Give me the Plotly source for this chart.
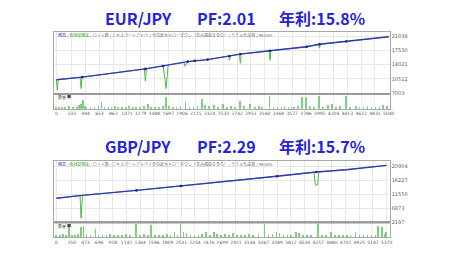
import plotly.graph_objects as go

W, H = 455, 259

# ---------------- EUR/JPY data ----------------
eur_title = ["EUR/JPY", "PF:2.01", "年利:15.8%"]
eur_bal_x = [0, 390, 1350, 1695, 1995, 2295, 2790, 3240, 3795, 3990, 4395, 5040]
eur_bal_y = [10280, 10940, 12990, 13970, 14810, 15300, 16680, 17520, 18500, 19140, 19800, 21000]
eur_eq_x = [0, 15, 30, 360, 375, 390, 1335, 1350, 1365, 1620, 1665, 1695, 1935, 1950, 1995, 2295,
            2610, 2625, 2640, 2775, 2790, 2805, 3225, 3240, 3255, 3795, 3975, 3990, 4005, 4395, 5040]
eur_eq_y = [10280, 7740, 10300, 10890, 8060, 10940, 12960, 9960, 13020, 13760, 8060, 13970, 14640, 13650, 14810, 15300,
            16180, 15130, 16260, 16640, 14390, 16710, 17490, 15050, 17550, 18500, 19080, 18160, 19160, 19800, 21000]
eur_mark_x = [390, 1350, 1620, 1995, 2100, 2295, 2625, 2790, 3240, 3795, 3990, 4395]
eur_mark_y = [10940, 12990, 13700, 14810, 15000, 15300, 16200, 16680, 17520, 18500, 19140, 19800]
eur_vol_x = [0, 45, 90, 135, 195, 255, 315, 345, 375, 405, 435, 465, 525, 585, 645, 690, 735, 795, 840, 900,
             945, 1005, 1065, 1110, 1170, 1215, 1275, 1335, 1395, 1440, 1500, 1560, 1620, 1665, 1710, 1770,
             1830, 1890, 1965, 2025, 2085, 2145, 2220, 2265, 2325, 2400, 2460, 2535, 2595, 2655, 2715, 2790,
             2850, 2940, 3015, 3075, 3120, 3240, 3300, 3360, 3420, 3465, 3525, 3570, 3615, 3675, 3735, 3795,
             3855, 3915, 3990, 4050, 4125, 4185, 4245, 4305, 4395, 4455, 4545, 4605, 4665, 4725, 4785, 4845,
             4905, 4965, 5025]
eur_vol_y = [0.2, 0.1, 0.2, 0.1, 0.3, 0.1, 0.2, 0.4, 0.5, 0.8, 0.3, 0.2, 0.1, 0.2, 0.3, 0.6, 0.2, 0.1, 0.2, 0.3,
             0.2, 0.1, 0.2, 0.3, 0.2, 0.1, 0.2, 0.3, 0.5, 0.2, 0.1, 0.2, 0.3, 1.1, 0.3, 0.2,
             0.1, 0.3, 0.6, 0.2, 0.1, 0.3, 0.9, 0.4, 0.3, 0.4, 0.2, 0.5, 0.2, 0.3, 0.1, 0.7,
             0.3, 0.5, 0.2, 0.3, 0.1, 1.2, 0.2, 0.1, 0.2, 0.3, 0.2, 0.1, 0.2, 0.3, 1.1, 1.1,
             0.3, 0.2, 1.2, 0.2, 0.4, 0.5, 0.2, 0.3, 1.2, 0.2, 0.3, 0.1, 0.2, 0.3, 0.2, 0.1,
             0.2, 0.4, 0.3]
eur_xticks = [0, 233, 444, 653, 862, 1071, 1279, 1488, 1697, 1906, 2115, 2324, 2533, 2742, 2951, 3160,
              3368, 3577, 3786, 3995, 4204, 4413, 4622, 4831, 5040]
eur_yticks = [7003, 10512, 14021, 17530, 21038]

# ---------------- GBP/JPY data ----------------
gbp_title = ["GBP/JPY", "PF:2.29", "年利:15.7%"]
gbp_bal_x = [0, 418, 1302, 2026, 3103, 3586, 4229, 4711, 5370]
gbp_bal_y = [10170, 11160, 12800, 14240, 16540, 17520, 18935, 19690, 21130]
gbp_eq_x = [0, 385, 402, 425, 1302, 2026, 3103, 3586, 4190, 4210, 4250, 4265, 4711, 5370]
gbp_eq_y = [10170, 11090, 3510, 11170, 12800, 14240, 16540, 17520, 18860, 14700, 14600, 18960, 19690, 21130]
gbp_mark_x = [1302, 2026, 3586, 4229]
gbp_mark_y = [12800, 14240, 17520, 18935]
gbp_vol_x = [0, 64, 113, 161, 209, 257, 306, 354, 402, 450, 498, 563, 643, 691, 756, 820, 884, 949, 1013,
             1077, 1142, 1206, 1302, 1367, 1431, 1495, 1544, 1608, 1672, 1737, 1801, 1865, 1930, 1978,
             2026, 2074, 2123, 2187, 2251, 2316, 2380, 2444, 2508, 2573, 2621, 2685, 2750, 2814, 2878,
             2943, 3007, 3071, 3136, 3200, 3296, 3393, 3457, 3522, 3586, 3634, 3698, 3763, 3827, 3907,
             3956, 4020, 4084, 4149, 4261, 4326, 4390, 4470, 4535, 4599, 4663, 4728, 4792, 4872, 4937,
             5001, 5065, 5130, 5194, 5242, 5306, 5340, 5365]
gbp_vol_y = [0.2, 0.1, 0.3, 0.2, 1.1, 0.2, 0.1, 0.3, 0.9, 1.0, 0.3, 0.2, 0.7, 0.2, 0.1, 0.2, 0.3, 0.2, 0.1,
             0.2, 0.3, 0.2, 1.2, 0.2, 0.3, 0.2, 1.1, 0.2, 0.1, 0.2, 0.3, 0.2, 0.5, 0.2,
             1.2, 0.5, 0.4, 0.2, 0.1, 0.2, 0.3, 0.5, 0.2, 0.5, 0.3, 0.2, 0.3, 0.2, 0.4,
             0.2, 0.1, 0.2, 0.3, 0.2, 0.3, 1.2, 0.2, 0.3, 0.5, 0.4, 0.2, 0.1, 0.2, 0.5,
             0.4, 0.2, 0.1, 0.2, 1.2, 0.2, 0.1, 0.5, 0.2, 0.1, 0.2, 0.2, 0.1, 0.5, 0.2,
             0.1, 0.2, 0.2, 0.1, 1.0, 0.9, 0.3, 0.5]
gbp_xticks = [0, 250, 473, 696, 918, 1141, 1364, 1586, 1809, 2031, 2254, 2476, 2699, 2921, 3144, 3367,
              3589, 3812, 4034, 4257, 4480, 4702, 4925, 5147, 5370]
gbp_yticks = [2197, 6873, 11550, 16227, 20904]

header = ('<span style="color:#2a2ad0">残高</span> / <span style="color:#1e9e1e">有効証拠金</span>'
          ' / ロット数 / エキスパートアドバイザの最大ドローダウン（含み損益を含む） / モデル化品質 / 99.00%')

BAL = "#3438b8"
EQ = "#4cbc4c"
VOL = "#7ccf7c"
GRID = "#e8e8e8"
FRAME = "#a8a8a8"
TXT = "#606060"


def py(p):
    return 1 - p / H


def px(p):
    return p / W


fig = go.Figure()

charts = [
    dict(bx=eur_bal_x, by=eur_bal_y, ex=eur_eq_x, ey=eur_eq_y, mx=eur_mark_x, my=eur_mark_y,
         vx=eur_vol_x, vy=eur_vol_y, xt=eur_xticks, yt=eur_yticks, title=eur_title,
         top=32, mid=95, bot=110, ty=18.5, xr=[-30, 5055], yr=[6757, 22269], n=1),
    dict(bx=gbp_bal_x, by=gbp_bal_y, ex=gbp_eq_x, ey=gbp_eq_y, mx=gbp_mark_x, my=gbp_mark_y,
         vx=gbp_vol_x, vy=gbp_vol_y, xt=gbp_xticks, yt=gbp_yticks, title=gbp_title,
         top=163, mid=225, bot=240, ty=148, xr=[-32, 5420], yr=[2150, 22545], n=3),
]

annotations = []
shapes = []
layout_axes = {}
for c in charts:
    n = c["n"]
    xa = "x" if n == 1 else f"x{n}"
    ya = "y" if n == 1 else f"y{n}"
    xv = f"x{n+1}"
    yv = f"y{n+1}"
    fig.add_trace(go.Scatter(x=c["ex"], y=c["ey"], mode="lines", line=dict(color=EQ, width=1),
                             xaxis=xa, yaxis=ya, showlegend=False))
    fig.add_trace(go.Scatter(x=c["bx"], y=c["by"], mode="lines", line=dict(color=BAL, width=1.4),
                             xaxis=xa, yaxis=ya, showlegend=False))
    fig.add_trace(go.Scatter(x=c["mx"], y=c["my"], mode="markers",
                             marker=dict(color="#23237a", size=2.6, symbol="circle", line=dict(width=0)),
                             xaxis=xa, yaxis=ya, showlegend=False))
    fig.add_trace(go.Bar(x=c["vx"], y=c["vy"], width=11, marker=dict(color=VOL, line=dict(width=0)),
                         xaxis=xv, yaxis=yv, showlegend=False))

    dom_x = [px(55), px(394)]
    common_x = dict(domain=dom_x, range=c["xr"], tickmode="array", tickvals=c["xt"],
                    showgrid=True, gridcolor=GRID, gridwidth=1, zeroline=False,
                    showline=True, mirror=True, linecolor=FRAME, linewidth=1, ticks="")
    key_x = "xaxis" if n == 1 else f"xaxis{n}"
    key_y = "yaxis" if n == 1 else f"yaxis{n}"
    layout_axes[key_x] = dict(common_x, anchor=ya, showticklabels=False)
    layout_axes[key_y] = dict(domain=[py(c["mid"]), py(c["top"])], range=c["yr"], side="right",
                              anchor=xa, tickmode="array", tickvals=c["yt"],
                              ticktext=[str(v) for v in c["yt"]],
                              tickfont=dict(size=5, color=TXT, family="DejaVu Sans"),
                              showgrid=True, gridcolor=GRID, zeroline=False,
                              showline=True, mirror=True, linecolor=FRAME, linewidth=1, ticks="")
    layout_axes[f"xaxis{n+1}"] = dict(common_x, anchor=yv, showticklabels=True,
                                      ticktext=[str(v) for v in c["xt"]],
                                      tickfont=dict(size=4.5, color=TXT, family="DejaVu Sans"),
                                      tickangle=0, gridcolor="#f0f0f0")
    layout_axes[f"yaxis{n+1}"] = dict(domain=[py(c["bot"]), py(c["mid"])], range=[0, 1.4],
                                      anchor=xv, showticklabels=False, showgrid=False, zeroline=False,
                                      showline=True, mirror=True, linecolor=FRAME, linewidth=1)
    # thicker separator between balance panel and volume panel
    shapes.append(dict(type="line", xref="paper", yref="paper", x0=dom_x[0], x1=dom_x[1],
                       y0=py(c["mid"]), y1=py(c["mid"]), line=dict(color="#999999", width=2)))

    # titles
    for txt, x0 in zip(c["title"], [104, 197, 280]):
        annotations.append(dict(text=txt, x=px(x0), y=py(c["ty"]), xref="paper", yref="paper",
                                xanchor="left", yanchor="middle", showarrow=False,
                                font=dict(size=16, color="#2626d6", family="Noto Sans CJK JP",
                                          weight="bold")))
    # header
    annotations.append(dict(text=header, x=px(57), y=py(c["top"] + 3), xref="paper", yref="paper",
                            xanchor="left", yanchor="middle", showarrow=False,
                            font=dict(size=4, color="#707070", family="Noto Sans CJK JP")))
    annotations.append(dict(text="数量 ■", x=px(57), y=py(c["mid"] + 3.5), xref="paper", yref="paper",
                            xanchor="left", yanchor="middle", showarrow=False,
                            font=dict(size=4, color="#444444", family="Noto Sans CJK JP")))

fig.update_layout(width=W, height=H, margin=dict(l=0, r=0, t=0, b=0),
                  paper_bgcolor="white", plot_bgcolor="white", bargap=0,
                  annotations=annotations, shapes=shapes, **layout_axes)

fig.write_html("out.html")
